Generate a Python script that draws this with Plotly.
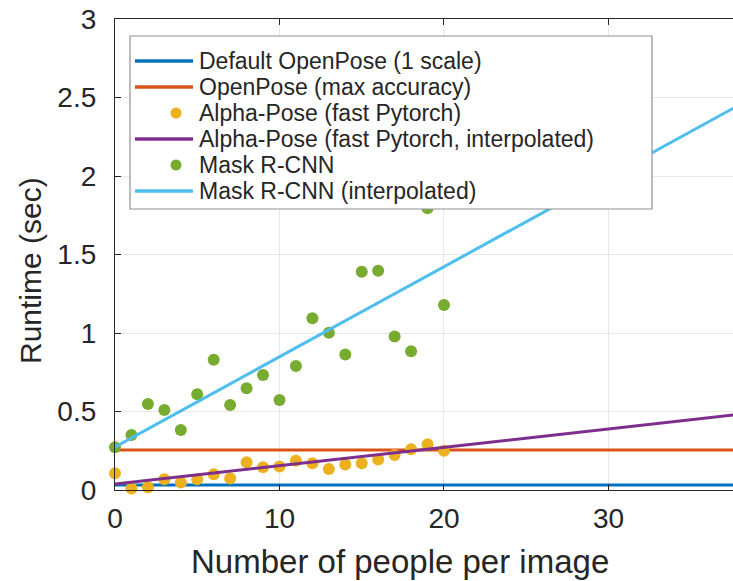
import plotly.graph_objects as go

# ---------------- data ----------------
people = list(range(21))
alpha_runtime = [0.106, 0.010, 0.017, 0.068, 0.047, 0.068, 0.100, 0.074, 0.176, 0.145,
                 0.149, 0.187, 0.170, 0.134, 0.163, 0.170, 0.195, 0.223, 0.259, 0.291, 0.250]
mask_runtime = [0.272, 0.350, 0.548, 0.510, 0.382, 0.610, 0.830, 0.541, 0.648, 0.733,
                0.573, 0.790, 1.094, 1.002, 0.863, 1.390, 1.397, 0.977, 0.884, 1.794, 1.178]
line_x = [0, 40]
openpose_default = [0.032, 0.032]
openpose_max = [0.255, 0.255]
alpha_interp = [0.038, 0.506]
mask_interp = [0.274, 2.570]

x_ticks = [0, 10, 20, 30]
y_ticks = [0, 0.5, 1, 1.5, 2, 2.5, 3]
y_ticktext = ["0", "0.5", "1", "1.5", "2", "2.5", "3"]

legend_labels = ["Default OpenPose (1 scale)", "OpenPose (max accuracy)",
                 "Alpha-Pose (fast Pytorch)", "Alpha-Pose (fast Pytorch, interpolated)",
                 "Mask R-CNN", "Mask R-CNN (interpolated)"]
legend_kinds = ["line", "line", "dot", "line", "dot", "line"]
colors = ["#0072BD", "#D95319", "#EDB120", "#7E2F8E", "#77AC30", "#4DBEEE"]

# ---------------- geometry ----------------
W, H = 733, 581
ML, MR, MT, MB = 115, 0, 19, 91
PW, PH = W - ML - MR, H - MT - MB
X_MAX = 37.57
FONT = "Liberation Sans, Arial, Helvetica, sans-serif"
TXT = "#262626"


def px(x):
    return (x - ML) / PW


def py(y):
    return (MT + PH - y) / PH


fig = go.Figure()
fig.add_trace(go.Scatter(x=line_x, y=openpose_default, mode="lines",
                         line=dict(color=colors[0], width=3), name=legend_labels[0]))
fig.add_trace(go.Scatter(x=line_x, y=openpose_max, mode="lines",
                         line=dict(color=colors[1], width=3), name=legend_labels[1]))
fig.add_trace(go.Scatter(x=people, y=alpha_runtime, mode="markers", cliponaxis=False,
                         marker=dict(color=colors[2], size=12), name=legend_labels[2]))
fig.add_trace(go.Scatter(x=line_x, y=alpha_interp, mode="lines",
                         line=dict(color=colors[3], width=3), name=legend_labels[3]))
fig.add_trace(go.Scatter(x=people, y=mask_runtime, mode="markers", cliponaxis=False,
                         marker=dict(color=colors[4], size=12), name=legend_labels[4]))
fig.add_trace(go.Scatter(x=line_x, y=mask_interp, mode="lines",
                         line=dict(color=colors[5], width=3), name=legend_labels[5]))

# ---------------- custom legend (MATLAB style) ----------------
shapes = []
annotations = []
box = (130, 36, 652, 209)
shapes.append(dict(type="rect", xref="paper", yref="paper", layer="above",
                   x0=px(box[0]), x1=px(box[2]), y0=py(box[3]), y1=py(box[1]),
                   line=dict(color="#8f8f8f", width=1.2), fillcolor="white"))
row0, row_h = 61, 26
for i, (lab, kind, col) in enumerate(zip(legend_labels, legend_kinds, colors)):
    yc = row0 + i * row_h
    if kind == "line":
        shapes.append(dict(type="line", xref="paper", yref="paper", layer="above",
                           x0=px(135), x1=px(193), y0=py(yc), y1=py(yc),
                           line=dict(color=col, width=3.5)))
    else:
        r = 5.5
        shapes.append(dict(type="circle", xref="paper", yref="paper", layer="above",
                           x0=px(176 - r), x1=px(176 + r), y0=py(yc + r), y1=py(yc - r),
                           line=dict(color=col, width=0), fillcolor=col))
    annotations.append(dict(text=lab, xref="paper", yref="paper", x=px(197), y=py(yc),
                            xanchor="left", yanchor="middle", showarrow=False,
                            font=dict(size=23, color=TXT, family=FONT)))

# axis titles
annotations.append(dict(text="Number of people per image", xref="paper", yref="paper",
                        x=px(400), y=py(561), xanchor="center", yanchor="middle",
                        showarrow=False, font=dict(size=33, color=TXT, family=FONT)))
annotations.append(dict(text="Runtime (sec)", xref="paper", yref="paper",
                        x=px(30), y=py(271), xanchor="center", yanchor="middle",
                        textangle=-90, showarrow=False,
                        font=dict(size=30, color=TXT, family=FONT)))

fig.update_layout(
    width=W, height=H,
    margin=dict(l=ML, r=MR, t=MT, b=MB),
    paper_bgcolor="white", plot_bgcolor="white",
    showlegend=False,
    font=dict(family=FONT, color=TXT),
    shapes=shapes, annotations=annotations,
    xaxis=dict(range=[0, X_MAX], tickvals=x_ticks, showgrid=True, gridcolor="#e8e8e8",
               gridwidth=1, zeroline=False, showline=True, linecolor=TXT, linewidth=1.3,
               mirror="ticks", ticks="inside", ticklen=6, tickcolor=TXT, tickwidth=1.3,
               tickfont=dict(size=28, color=TXT, family=FONT), ticklabelstandoff=3),
    yaxis=dict(range=[0, 3], tickvals=y_ticks, ticktext=y_ticktext, showgrid=True,
               gridcolor="#e8e8e8", gridwidth=1, zeroline=False, showline=True,
               linecolor=TXT, linewidth=1.3, mirror=False, ticks="inside", ticklen=6,
               tickcolor=TXT, tickwidth=1.3,
               tickfont=dict(size=28, color=TXT, family=FONT), ticklabelstandoff=12),
)

fig.write_html("out.html")
